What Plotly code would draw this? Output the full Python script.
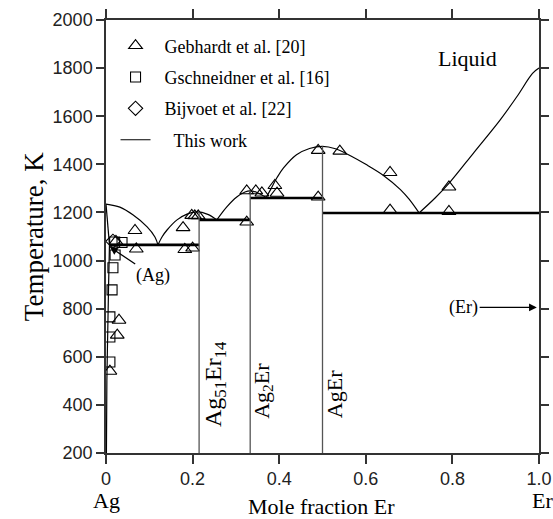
import plotly.graph_objects as go

# ---------------- experimental data ----------------
geb_x = [0.023, 0.067, 0.07, 0.178, 0.182, 0.2, 0.198, 0.205, 0.213, 0.325, 0.325, 0.346, 0.36,
         0.39, 0.395, 0.49, 0.54, 0.49, 0.656, 0.656, 0.792, 0.792, 0.03, 0.026, 0.009]
geb_T = [1080, 1125, 1048, 1137, 1046, 1052, 1188, 1186, 1186, 1160, 1290, 1290, 1281,
         1312, 1280, 1458, 1455, 1264, 1366, 1210, 1306, 1204, 752, 690, 540]
gsch_x = [0.02, 0.037, 0.021, 0.016, 0.014, 0.009, 0.009, 0.009]
gsch_T = [1077, 1075, 1023, 970, 878, 766, 682, 578]
bij_x = [0.016]
bij_T = [1080]

# ---------------- calculated diagram (this work) ----------------
liq_ag_x = [0, 0.032, 0.062, 0.095, 0.113, 0.12]
liq_ag_T = [1235, 1222, 1190, 1140, 1098, 1065]
liq_a51_x = [0.12, 0.13, 0.141, 0.164, 0.187, 0.21, 0.235, 0.256]
liq_a51_T = [1065, 1100, 1127, 1169, 1193, 1202, 1192, 1169]
liq_a2_x = [0.256, 0.279, 0.302, 0.321, 0.333, 0.35, 0.37]
liq_a2_T = [1169, 1223, 1264, 1285, 1290, 1282, 1262]
liq_ae_x = [0.37, 0.38, 0.395, 0.41, 0.44, 0.47, 0.5, 0.53, 0.56, 0.6, 0.64, 0.68, 0.70, 0.723]
liq_ae_T = [1262, 1295, 1345, 1385, 1440, 1466, 1475, 1465, 1440, 1400, 1355, 1295, 1255, 1198]
liq_er_x = [0.723, 0.76, 0.794, 0.85, 0.91, 0.95, 0.985, 1.0]
liq_er_T = [1198, 1260, 1325, 1450, 1584, 1684, 1778, 1800]
solidus_x = [0, 0.008]
solidus_T = [1235, 1065]
solvus_x = [0.008, 0.006, 0.004, 0.002, 0.001]
solvus_T = [1065, 900, 700, 500, 200]

# invariant reactions
inv_x0 = [0.008, 0.215, 0.333, 0.5]
inv_x1 = [0.215, 0.333, 0.5, 1.0]
inv_T = [1065, 1169, 1260, 1198]

# compounds
comp_x = [0.215, 0.333, 0.5]
comp_Tm = [1202, 1290, 1475]
comp_labels = ["Ag<sub>51</sub>Er<sub>14</sub>", "Ag<sub>2</sub>Er", "AgEr"]

x_ticks = [0, 0.2, 0.4, 0.6, 0.8, 1.0]
x_ticklabels = ["0", "0.2", "0.4", "0.6", "0.8", "1.0"]
y_ticks = [200, 400, 600, 800, 1000, 1200, 1400, 1600, 1800, 2000]

SERIF = "Liberation Serif"
SANS = "Liberation Sans"
NB = "\u00a0"

fig = go.Figure()

fig.add_trace(go.Scatter(x=geb_x, y=geb_T, mode="markers", name=NB * 2 + "Gebhardt et al. [20]",
                         legendgroup="a",
                         marker=dict(symbol="triangle-up-open", size=12, color="black",
                                     line=dict(width=1.1, color="black"))))
fig.add_trace(go.Scatter(x=gsch_x, y=gsch_T, mode="markers", name=NB * 2 + "Gschneidner et al. [16]",
                         legendgroup="b",
                         marker=dict(symbol="square-open", size=10, color="black",
                                     line=dict(width=1.1, color="black"))))
fig.add_trace(go.Scatter(x=bij_x, y=bij_T, mode="markers", name=NB * 2 + "Bijvoet et al. [22]",
                         legendgroup="c",
                         marker=dict(symbol="diamond-open", size=11, color="black",
                                     line=dict(width=1.1, color="black"))))

line_style = dict(color="black", width=1.2)
segments = [(liq_ag_x, liq_ag_T), (liq_a51_x, liq_a51_T), (liq_a2_x, liq_a2_T),
            (liq_ae_x, liq_ae_T), (liq_er_x, liq_er_T)]
for i, (sx, sy) in enumerate(segments):
    fig.add_trace(go.Scatter(x=sx, y=sy, mode="lines", line=dict(shape="spline", **line_style),
                             name=NB * 4 + "This work", legendgroup="d",
                             showlegend=(i == 0)))
fig.add_trace(go.Scatter(x=solidus_x, y=solidus_T, mode="lines", line=line_style,
                         showlegend=False))
fig.add_trace(go.Scatter(x=solvus_x, y=solvus_T, mode="lines", line=dict(shape="spline", **line_style),
                         showlegend=False))
for x0, x1, t in zip(inv_x0, inv_x1, inv_T):
    fig.add_trace(go.Scatter(x=[x0, x1], y=[t, t], mode="lines",
                             line=dict(color="black", width=2.6), showlegend=False))
for cx, ct in zip(comp_x, comp_Tm):
    fig.add_trace(go.Scatter(x=[cx, cx], y=[200, ct], mode="lines",
                             line=dict(color="#555555", width=1.3), showlegend=False))

label_dx = [0.037, 0.028, 0.028]
label_bottom = [300, 335, 335]
label_size = [24, 22, 22]
annotations = []
for cx, lab, dx, yb, fs in zip(comp_x, comp_labels, label_dx, label_bottom, label_size):
    annotations.append(dict(x=cx + dx, y=yb, xref="x", yref="y", text=lab, textangle=-90,
                            showarrow=False, xanchor="center", yanchor="bottom",
                            font=dict(family=SERIF, size=fs, color="black")))
annotations += [
    dict(x=0.835, y=1842, xref="x", yref="y", text="Liquid", showarrow=False,
         xanchor="center", yanchor="middle",
         font=dict(family=SERIF, size=22, color="black")),
    dict(x=0.009, y=1056, ax=0.109, ay=936, xref="x", yref="y", axref="x", ayref="y",
         text="(Ag)", showarrow=True, arrowhead=2, arrowsize=1.2, arrowwidth=1.3,
         arrowcolor="black", font=dict(family=SERIF, size=18, color="black")),
    dict(x=0.995, y=805, ax=0.826, ay=805, xref="x", yref="y", axref="x", ayref="y",
         text="(Er)", showarrow=True, arrowhead=2, arrowsize=1.2, arrowwidth=1.3,
         arrowcolor="black", font=dict(family=SERIF, size=18, color="black")),
    dict(x=-0.167, y=0.5, xref="paper", yref="paper", text="Temperature, K", textangle=-90,
         xanchor="center", yanchor="middle", showarrow=False,
         font=dict(family=SERIF, size=27, color="black")),
    dict(x=0.497, y=-0.123, xref="paper", yref="paper", text="Mole fraction Er",
         xanchor="center", yanchor="middle", showarrow=False,
         font=dict(family=SERIF, size=22, color="black")),
    dict(x=0.001, y=-0.11, xref="paper", yref="paper", text="Ag",
         xanchor="center", yanchor="middle", showarrow=False,
         font=dict(family=SERIF, size=22, color="black")),
    dict(x=1.007, y=-0.11, xref="paper", yref="paper", text="Er",
         xanchor="center", yanchor="middle", showarrow=False,
         font=dict(family=SERIF, size=22, color="black")),
]

axis_common = dict(showline=True, linecolor="#333333", linewidth=1.5, mirror="ticks",
                   ticks="outside", tickcolor="#333333", tickwidth=1.5,
                   showgrid=False, zeroline=False, automargin=False,
                   tickfont=dict(family=SANS, size=18, color="#222222"))

fig.update_layout(
    width=553, height=519,
    margin=dict(l=106, r=14, t=20, b=66, autoexpand=False),
    paper_bgcolor="white", plot_bgcolor="white",
    xaxis=dict(range=[0, 1], tickvals=x_ticks, ticktext=x_ticklabels, ticklen=9, **axis_common),
    yaxis=dict(range=[200, 2000], tickvals=y_ticks, ticklen=8, **axis_common),
    legend=dict(x=0.022, y=0.983, xanchor="left", yanchor="top", bgcolor="rgba(0,0,0,0)",
                font=dict(family=SERIF, size=18, color="black"), tracegroupgap=5),
    annotations=annotations,
)

fig.write_html("out.html", config={"displayModeBar": False},
               post_script="document.body.style.margin='0';document.body.style.overflow='hidden';")
